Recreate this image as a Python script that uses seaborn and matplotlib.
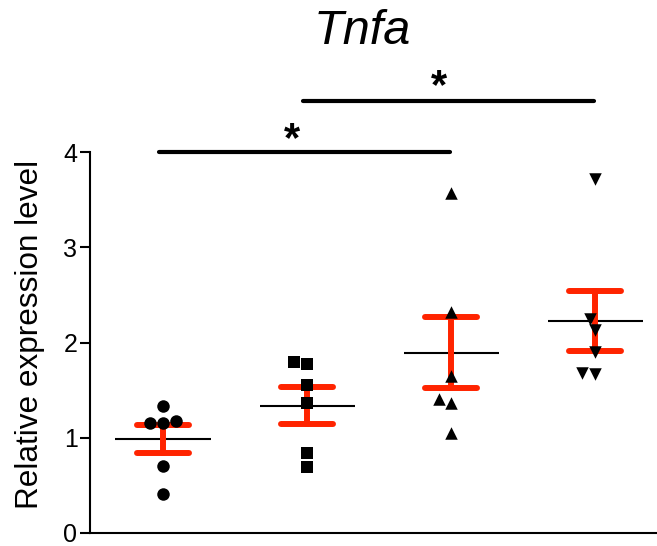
import numpy as np
import pandas as pd
import matplotlib
matplotlib.use("Agg")
import matplotlib.pyplot as plt
import seaborn as sns

# ---- data ----
groups = ["G1", "G2", "G3", "G4"]
g1_values = [1.18, 1.16, 1.16, 1.33, 0.70, 0.41]
g2_values = [1.77, 1.80, 1.55, 1.36, 0.84, 0.69]
g3_values = [3.57, 2.32, 1.65, 1.41, 1.37, 1.05]
g4_values = [3.72, 2.25, 2.13, 1.90, 1.67, 1.68]
markers = ["o", "s", "^", "v"]
yticks = [0, 1, 2, 3, 4]
title_text = "Tnfa"
ylabel_text = "Relative expression level"
sig_pairs = [(0, 2), (1, 3)]
sig_heights = [4.0, 4.54]
sig_labels = ["*", "*"]

values = [g1_values, g2_values, g3_values, g4_values]
df = pd.DataFrame({
    "group": np.repeat(groups, [len(v) for v in values]),
    "value": np.concatenate(values),
})

sns.set_style("ticks")
plt.rcParams["font.family"] = ["Liberation Sans", "DejaVu Sans"]
plt.rcParams["text.color"] = "black"
plt.rcParams["axes.labelcolor"] = "black"
plt.rcParams["xtick.color"] = "black"
plt.rcParams["ytick.color"] = "black"
plt.rcParams["axes.edgecolor"] = "black"

RED = "#FF2400"
fig = plt.figure(figsize=(6.57, 5.46), dpi=100)
ax = fig.add_axes([90 / 657, 13 / 546, 567 / 657, 381 / 546])

# mean lines
means = df.groupby("group", sort=False)["value"].mean().reindex(groups)
ax.hlines(means.values, np.arange(len(groups)) - 0.33, np.arange(len(groups)) + 0.33,
          color="black", linewidth=1.5, zorder=2)

# mean +/- SEM
sns.pointplot(data=df, x="group", y="value", order=groups, errorbar="se",
              capsize=0.36, linestyle="none", marker="", color=RED,
              err_kws={"linewidth": 4.3, "solid_capstyle": "round"}, ax=ax, zorder=3)
for ln in ax.lines:
    ln.set_solid_capstyle("round")
    ln.set_zorder(3)

# individual points
for g, m in zip(groups, markers):
    sns.swarmplot(data=df[df["group"] == g], x="group", y="value", order=groups,
                  marker=m, color="black", size=9, ax=ax, zorder=4, linewidth=0)

ax.set_xlim(-0.507, 3.43)
ax.set_ylim(0, 4)
ax.set_yticks(yticks)
ax.set_yticklabels([str(t) for t in yticks], fontsize=18)
ax.set_xticks([])
ax.set_xlabel("")
ax.set_ylabel(ylabel_text, fontsize=22.7)
ax.yaxis.set_label_coords(-0.079, 0.52)
ax.tick_params(axis="y", length=7, width=1.5, pad=2)
for s in ["top", "right"]:
    ax.spines[s].set_visible(False)
ax.spines["left"].set_linewidth(1.5)
ax.spines["bottom"].set_linewidth(1.5)

# significance bars
for (a, b), h, lab in zip(sig_pairs, sig_heights, sig_labels):
    ax.plot([a - 0.03, b - 0.01], [h, h], color="black", linewidth=3,
            solid_capstyle="round", clip_on=False)
star_x = [0.894, 1.917]
star_y = [4.13, 4.68]
for x, y, lab in zip(star_x, star_y, sig_labels):
    ax.text(x, y, lab, ha="center", va="center", fontsize=30, fontweight="bold",
            clip_on=False)

fig.text(362 / 657, 1 - 31 / 546, title_text, ha="center", va="center",
         fontsize=35, style="italic")

fig.savefig("out.png", dpi=100)
